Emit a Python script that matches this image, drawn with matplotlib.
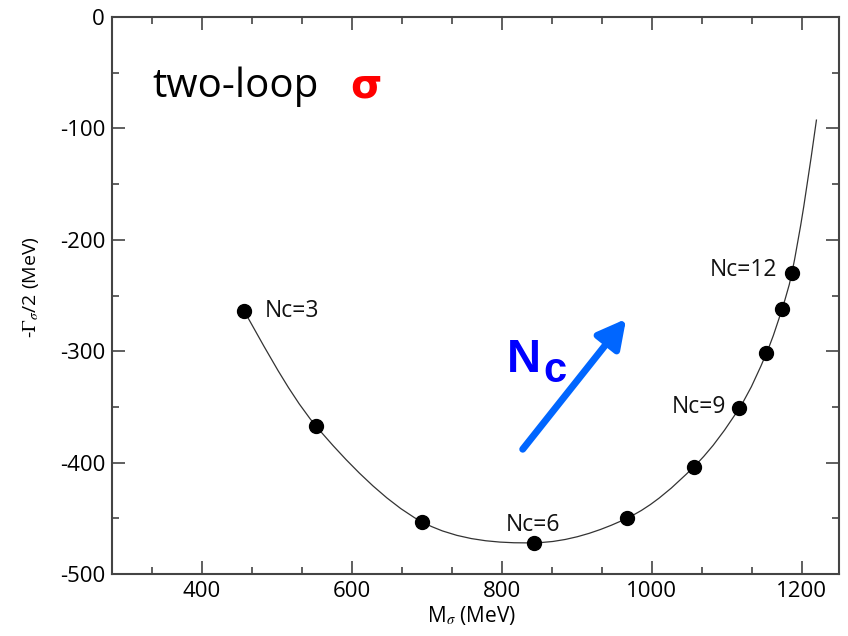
import matplotlib
matplotlib.use("Agg")
import matplotlib.pyplot as plt
from matplotlib.ticker import MultipleLocator
from matplotlib.path import Path
from matplotlib.patches import PathPatch

plt.rcParams['font.family'] = ['Open Sans', 'DejaVu Sans']
plt.rcParams['mathtext.fontset'] = 'stix'
plt.rcParams['axes.unicode_minus'] = False

# Data points (M_sigma, -Gamma/2) in MeV
mass = [456, 552, 693, 843, 967, 1056, 1117, 1153, 1174, 1187]
width = [-264, -367, -453, -472, -450, -404, -351, -302, -262, -230]

# Continuous curve: passes through the dots, then continues up
curve_x = [456, 552, 693, 843, 967, 1056, 1117, 1153, 1174, 1187, 1203, 1220]
curve_y = [-264, -367, -453, -472, -450, -404, -351, -302, -262, -230, -170, -92]

labels = ["Nc=3", "Nc=6", "Nc=9", "Nc=12"]
label_pos = [(484, -264), (842, -456), (1099, -350), (1167, -227)]
label_ha = ["left", "center", "right", "right"]

fig = plt.figure(figsize=(8.48, 6.36), dpi=100)
ax = fig.add_axes([112/848, 62/636, 727/848, 557/636])

# smooth curve through the read points (Catmull-Rom drawn as Bezier path)
pts = list(zip(curve_x, curve_y))
ext = [pts[0]] + pts + [pts[-1]]
verts = [pts[0]]
codes = [Path.MOVETO]
for i in range(1, len(ext) - 2):
    p0, p1, p2, p3 = ext[i - 1], ext[i], ext[i + 1], ext[i + 2]
    c1 = (p1[0] + (p2[0] - p0[0]) / 6, p1[1] + (p2[1] - p0[1]) / 6)
    c2 = (p2[0] - (p3[0] - p1[0]) / 6, p2[1] - (p3[1] - p1[1]) / 6)
    verts += [c1, c2, p2]
    codes += [Path.CURVE4] * 3
ax.add_patch(PathPatch(Path(verts, codes), fill=False, edgecolor='#333333',
                       lw=0.9, zorder=2))

ax.plot(mass, width, 'o', color='black', ms=10, zorder=3)

for t, (x, y), ha in zip(labels, label_pos, label_ha):
    ax.text(x, y, t, ha=ha, va='center', fontsize=16.5, color='#111111')

ax.text(334, -72, "two-loop", fontsize=29, ha='left', va='baseline', color='black')
ax.text(598, -72, "σ", fontsize=29, ha='left', va='baseline', color='#ff0000',
        fontweight='bold', family=['DejaVu Sans'])

ax.text(807, -318.7, "N", fontsize=34, ha='left', va='baseline', color='#0000ff',
        fontweight='bold', family=['Liberation Sans'])
ax.text(856, -327.6, "c", fontsize=30, ha='left', va='baseline', color='#0000ff',
        fontweight='bold', family=['Liberation Sans'])

ax.annotate('', xy=(966, -271), xytext=(828, -388),
            arrowprops=dict(arrowstyle='-|>,head_length=0.85,head_width=0.45',
                            lw=5, color='#0066ff', shrinkA=0, shrinkB=0,
                            mutation_scale=20))

ax.set_xlim(280, 1250)
ax.set_ylim(-500, 0)
ax.xaxis.set_major_locator(MultipleLocator(200))
ax.xaxis.set_minor_locator(MultipleLocator(200/3))
ax.yaxis.set_major_locator(MultipleLocator(100))
ax.yaxis.set_minor_locator(MultipleLocator(50))
ax.tick_params(which='both', direction='in', top=True, right=True,
               color='#444444', width=1.2)
ax.tick_params(which='major', length=9.5, labelsize=16, pad=5)
ax.tick_params(which='minor', length=5)
for s in ax.spines.values():
    s.set_color('#444444')
    s.set_linewidth(1.5)

fig.text(472/848, 1 - 622/636, r'M$_{\sigma}$ (MeV)', ha='center', va='baseline', fontsize=15)
fig.text(31/848, 1 - 287/636, r'-$\Gamma_{\sigma}$/2 (MeV)', ha='center', va='center',
         fontsize=14, rotation=90)

fig.savefig('out.png', dpi=100)
